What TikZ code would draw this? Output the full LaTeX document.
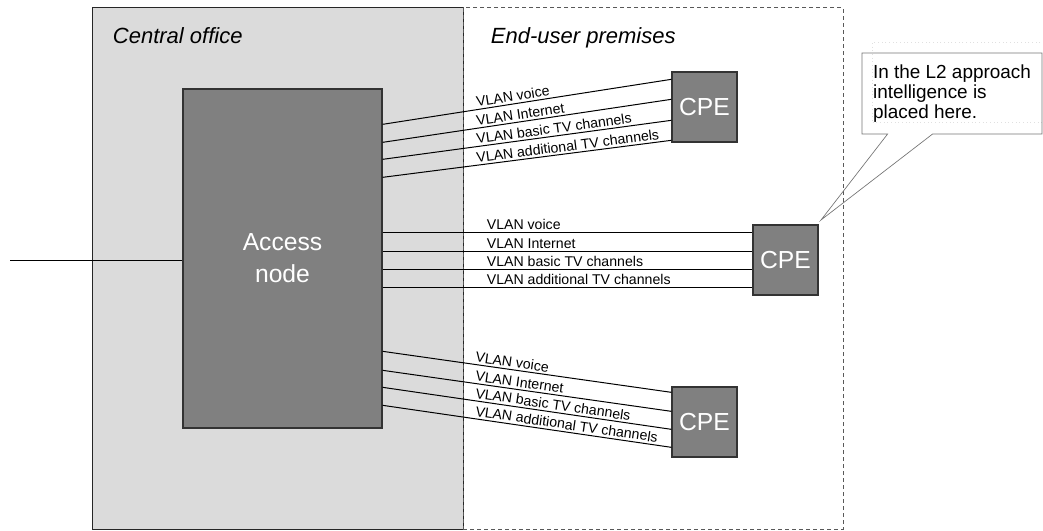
\documentclass[tikz,border=0pt]{standalone}
\usepackage{fontspec}
\setmainfont{Liberation Sans}
\usepackage{tikz}
\usetikzlibrary{calc,positioning,shapes.callouts}

\tikzset{
	box/.style={draw=black!80, line width=1pt, fill=black!50, text=white, font=\fontsize{18.5}{24}\selectfont, align=center, inner sep=0pt},
	cpebox/.style={box, minimum width=48.75pt, minimum height=52.5pt},
	vlan/.style={sloped, anchor=south west, inner sep=1.5pt, font=\fontsize{10.6}{12}\selectfont},
	region/.style={font=\fontsize{16.5}{20}\selectfont\itshape, anchor=base west},
}

\begin{document}
\begin{tikzpicture}[x=0.75pt,y=-0.75pt, line width=0.75pt]
	\useasboundingbox (0,0) rectangle (1043,531);

	% the two sides
	\node[draw=black!85, fill=black!14, minimum width=278.25pt, minimum height=390.75pt, inner sep=0pt] (office) at (277.5,268.5) {};
	\node[draw=black!65, dash pattern=on 3pt off 2.25pt, minimum width=285pt, minimum height=390.75pt, inner sep=0pt] (premises) at (653,268.5) {};
	\node[region] (officelbl) at (108,44) {Central office};
	\node[region] (premiseslbl) at (486,44) {End-user premises};

	\node[box, minimum width=149.25pt, minimum height=254.25pt] (access) at (282.5,258.5) {Access\\node};
	\node[cpebox] (cpeA) at (704.5,107) {CPE};
	\node[cpebox] (cpeB) at (785.5,260) {CPE};
	\node[cpebox] (cpeC) at (704.5,422) {CPE};

	\coordinate (uplink) at (10,261);
	\draw (uplink) -- (uplink -| access.west);

	% VLANs per CPE
	\foreach \a/\b/\name in {36/8/VLAN voice, 54/28/VLAN Internet, 71/49/VLAN basic TV channels, 89/69/VLAN additional TV channels}
		\draw ($(access.north east)+(0,\a)$) -- node[vlan, pos=.32] {\name} ($(cpeA.north west)+(0,\b)$);

	\foreach \b/\name in {8/VLAN voice, 27/VLAN Internet, 45/VLAN basic TV channels, 63/VLAN additional TV channels}{
		\coordinate (end) at ($(cpeB.north west)+(0,\b)$);
		\draw (access.east |- end) -- node[vlan, pos=.275] {\name} (end);
	}

	\foreach \a/\b/\name in {263/6/VLAN voice, 282/25/VLAN Internet, 299/43/VLAN basic TV channels, 317/61/VLAN additional TV channels}
		\draw ($(access.north east)+(0,\a)$) -- node[vlan, pos=.31] {\name} ($(cpeC.north west)+(0,\b)$);

	% note
	\coordinate (tip) at (821,220);
	\draw[black!12, dotted] (872,43) rectangle (1043,123);
	\node[rectangle callout, callout absolute pointer={(tip)}, callout pointer width=33.75pt, draw=black!55, line width=0.5pt, minimum width=135pt, minimum height=60.75pt, inner ysep=0pt, align=left, font=\fontsize{14.2}{15}\selectfont] (note) at (952,93.5) {In the L2 approach\\intelligence is\\placed here.};
\end{tikzpicture}
\end{document}
